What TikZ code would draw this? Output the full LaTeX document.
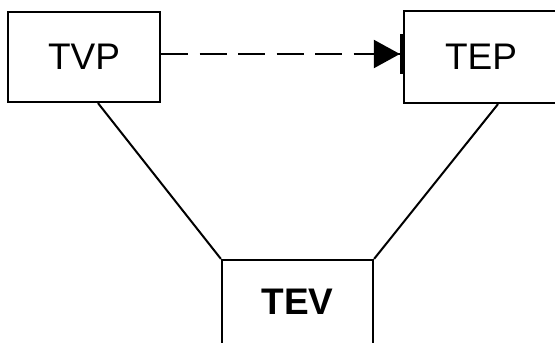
\documentclass[tikz,border=0pt]{standalone}
\usepackage{fontspec}
\setmainfont{Liberation Sans}
\usetikzlibrary{arrows.meta}
\begin{document}
\begin{tikzpicture}[x=1pt,y=-1pt,
  boxnode/.style={draw=black, line width=2.2pt, rectangle, inner sep=0pt, font=\fontsize{37}{40}\selectfont},
  link/.style={line width=2pt}]
\useasboundingbox (0,0) rectangle (555,343);
\node[boxnode, minimum width=152pt, minimum height=90pt] (TVP) at (84,57) {TVP};
\node[boxnode, minimum width=154pt, minimum height=92pt] (TEP) at (481,57) {TEP};
\node[boxnode, minimum width=151pt, minimum height=84pt, font=\fontsize{37}{40}\selectfont\bfseries] (TEV) at (297.5,302) {TEV};
\draw[link, dash pattern=on 27pt off 11.5pt,
  -{Triangle[length=26pt,width=28pt] Bar[width=40pt,line width=3pt]}]
  ([yshift=3pt]TVP.east) -- ([yshift=3pt]TEP.west);
\draw[link] ([xshift=14pt]TVP.south) -- (TEV.north west);
\draw[link] ([xshift=17pt]TEP.south) -- (TEV.north east);
\end{tikzpicture}
\end{document}
